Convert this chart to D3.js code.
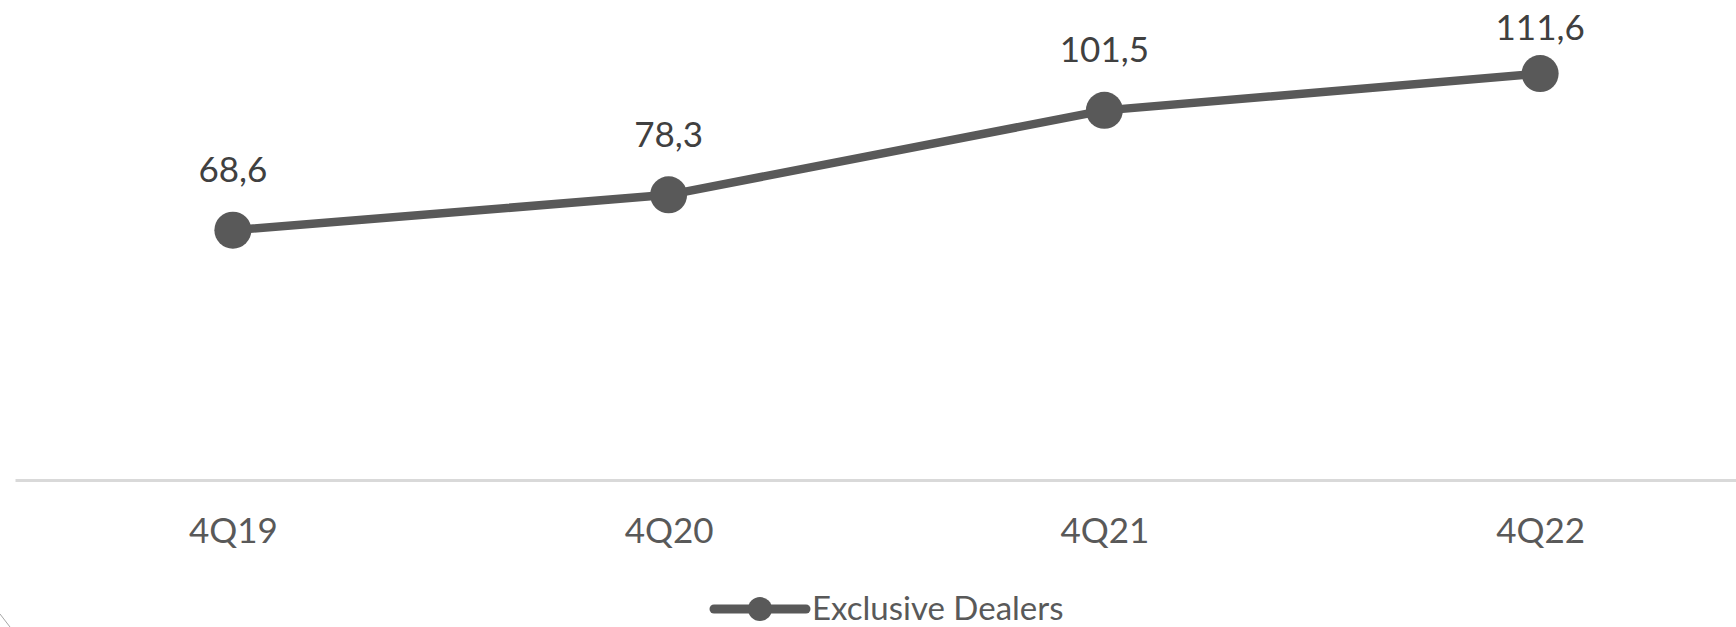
<!DOCTYPE html>
<html>
<head>
<meta charset="utf-8">
<script src="https://cdn.jsdelivr.net/npm/d3@7"></script>
<style>
  body { margin: 0; background: #fff; }
  svg { display: block; font-family: Lato, "Open Sans", sans-serif; }
</style>
</head>
<body>
<svg id="chart"></svg>
<script>
// data
const quarters = ['4Q19', '4Q20', '4Q21', '4Q22'];
const dealers = [68.6, 78.3, 101.5, 111.6];
const seriesName = 'Exclusive Dealers';

const width = 1736, height = 627;
const plot = { left: 15, right: 1758, top: 43, bottom: 480 };

const svg = d3.select('#chart')
    .attr('width', width)
    .attr('height', height);

const x = d3.scalePoint()
    .domain(quarters)
    .range([plot.left, plot.right])
    .padding(0.5);

const y = d3.scaleLinear()
    .domain([0, 120])
    .range([plot.bottom, plot.top]);

const grey = '#595959';

// x axis
const xAxis = svg.append('g')
    .attr('transform', `translate(0,${plot.bottom})`)
    .call(d3.axisBottom(x).tickSize(0).tickSizeOuter(0).tickPadding(38));
xAxis.select('.domain')
    .attr('stroke', '#d9d9d9')
    .attr('stroke-width', 3);
xAxis.selectAll('text')
    .attr('fill', grey)
    .style('font-size', '35px')
    .style('font-family', 'Lato, sans-serif');

const pts = quarters.map((q, i) => ({ q: q, v: dealers[i] }));

// line
const line = d3.line()
    .x(d => x(d.q))
    .y(d => y(d.v));

svg.append('path')
    .datum(pts)
    .attr('d', line)
    .attr('fill', 'none')
    .attr('stroke', grey)
    .attr('stroke-width', 8.5)
    .attr('stroke-linejoin', 'round');

svg.selectAll('circle.pt')
    .data(pts)
    .enter()
    .append('circle')
    .attr('class', 'pt')
    .attr('cx', d => x(d.q))
    .attr('cy', d => y(d.v))
    .attr('r', 18.5)
    .attr('fill', grey);

// data labels (pushed down when they would leave the top)
svg.selectAll('text.lbl')
    .data(pts)
    .enter()
    .append('text')
    .attr('class', 'lbl')
    .attr('x', d => x(d.q))
    .attr('y', d => Math.max(y(d.v) - 48, 40))
    .attr('text-anchor', 'middle')
    .attr('fill', '#404040')
    .style('font-size', '35px')
    .text(d => d3.format('.1f')(d.v).replace('.', ','));

// legend
const lg = svg.append('g').attr('transform', 'translate(714,609)');
lg.append('line')
    .attr('x1', 0).attr('x2', 92)
    .attr('stroke', grey)
    .attr('stroke-width', 9)
    .attr('stroke-linecap', 'round');
lg.append('circle')
    .attr('cx', 46)
    .attr('r', 12)
    .attr('fill', grey);
lg.append('text')
    .attr('x', 98)
    .attr('y', 11)
    .attr('fill', grey)
    .style('font-size', '33px')
    .text(seriesName);

// corner of the frame, bottom left
svg.append('line')
    .attr('x1', 0).attr('y1', 614)
    .attr('x2', 10).attr('y2', 627)
    .attr('stroke', '#a6a6a6')
    .attr('stroke-width', 1);
</script>
</body>
</html>
